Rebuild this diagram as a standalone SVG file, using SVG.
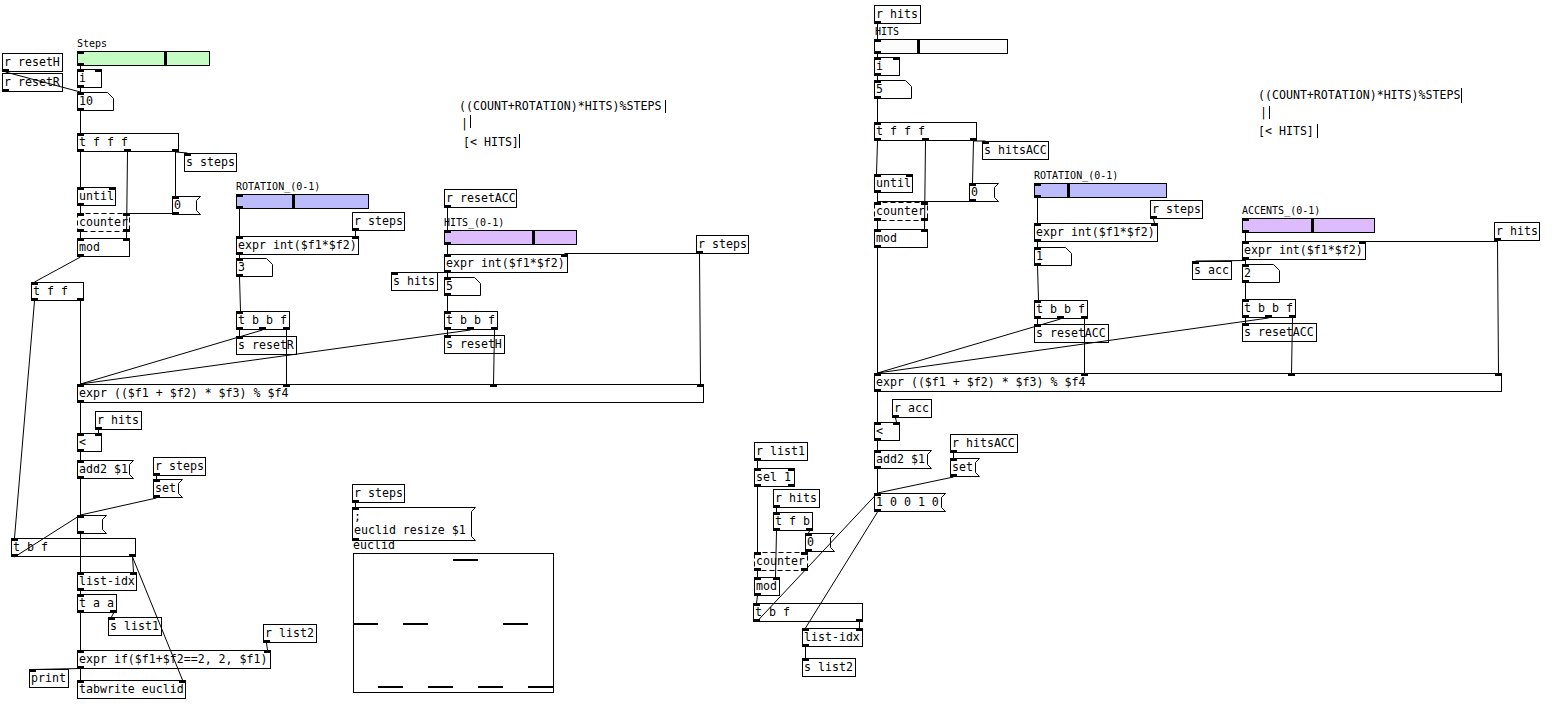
<svg xmlns="http://www.w3.org/2000/svg" width="1567" height="717" viewBox="0 0 1567 717">
<style>
.b{fill:#fff;stroke:#000;stroke-width:1}
.d{fill:#fff;stroke:#000;stroke-width:1;stroke-dasharray:5,3}
.t{font-family:"DejaVu Sans Mono",monospace;font-size:11.6px;fill:#000}
.l{font-family:"DejaVu Sans Mono",monospace;font-size:10px;fill:#000}
.io{fill:#000}
.c line{stroke:#000;stroke-width:1}
.cb{stroke:#000;stroke-width:1}
.sg{fill:#c4fcc4;stroke:#000}
.sb{fill:#bcbcfc;stroke:#000}
.sp{fill:#dcbcfc;stroke:#000}
.sw{fill:#fcfcfc;stroke:#000}
</style>
<rect width="1567" height="717" fill="#fff"/>

<g id="n_stepsslider"><text class="l" x="77" y="47">Steps</text><rect class="sg" x="77.5" y="51.5" width="132" height="14"/><rect class="io" x="164" y="51" width="3" height="15"/><rect class="io" x="77" y="51" width="7" height="3"/><rect class="io" x="77" y="63" width="7" height="3"/></g>
<g id="n_rresetH"><rect class="b" x="2.5" y="53.5" width="60" height="18"/><text class="t" x="4" y="66">r resetH</text><rect class="io" x="2" y="69" width="7" height="3"/></g>
<g id="n_rresetR"><rect class="b" x="2.5" y="73.5" width="60" height="18"/><text class="t" x="4" y="86">r resetR</text><rect class="io" x="2" y="89" width="7" height="3"/></g>
<g id="n_i"><rect class="b" x="77.5" y="69.5" width="24" height="18"/><text class="t" x="79" y="82">i</text><rect class="io" x="77" y="69" width="7" height="3"/><rect class="io" x="95" y="69" width="7" height="3"/><rect class="io" x="77" y="85" width="7" height="3"/></g>
<g id="n_10"><path class="b" d="M77.5,92.5H107.5L113.5,98.5V110.5H77.5Z"/><text class="t" x="79" y="105">10</text><rect class="io" x="77" y="92" width="7" height="3"/><rect class="io" x="77" y="108" width="7" height="3"/></g>
<g id="n_tfff"><rect class="b" x="77.5" y="133.5" width="101" height="18"/><text class="t" x="79" y="146">t f f f</text><rect class="io" x="77" y="133" width="7" height="3"/><rect class="io" x="77" y="149" width="7" height="3"/><rect class="io" x="124" y="149" width="7" height="3"/><rect class="io" x="172" y="149" width="7" height="3"/></g>
<g id="n_ssteps"><rect class="b" x="184.5" y="153.5" width="52" height="18"/><text class="t" x="186" y="166">s steps</text><rect class="io" x="184" y="153" width="7" height="3"/></g>
<g id="n_until"><rect class="b" x="77.5" y="187.5" width="38" height="18"/><text class="t" x="79" y="200">until</text><rect class="io" x="77" y="187" width="7" height="3"/><rect class="io" x="109" y="187" width="7" height="3"/><rect class="io" x="77" y="203" width="7" height="3"/></g>
<g id="n_zero1"><polygon class="b" points="172.5,196.5 200.5,196.5 196.5,200.5 196.5,210.5 200.5,214.5 172.5,214.5"/><text class="t" x="174" y="209">0</text><rect class="io" x="172" y="196" width="7" height="3"/><rect class="io" x="172" y="212" width="7" height="3"/></g>
<g id="n_counter"><rect class="d" x="77.5" y="213.5" width="52" height="18"/><text class="t" x="79" y="226">counter</text><rect class="io" x="77" y="213" width="7" height="3"/><rect class="io" x="123" y="213" width="7" height="3"/><rect class="io" x="77" y="229" width="7" height="3"/><rect class="io" x="123" y="229" width="7" height="3"/></g>
<g id="n_mod"><rect class="b" x="77.5" y="238.5" width="52" height="18"/><text class="t" x="79" y="251">mod</text><rect class="io" x="77" y="238" width="7" height="3"/><rect class="io" x="123" y="238" width="7" height="3"/><rect class="io" x="77" y="254" width="7" height="3"/></g>
<g id="n_tff"><rect class="b" x="31.5" y="282.5" width="52" height="18"/><text class="t" x="33" y="295">t f f</text><rect class="io" x="31" y="282" width="7" height="3"/><rect class="io" x="31" y="298" width="7" height="3"/><rect class="io" x="77" y="298" width="7" height="3"/></g>

<g id="n_rotslider1"><text class="l" x="236" y="190">ROTATION_(0-1)</text><rect class="sb" x="236.5" y="194.5" width="132" height="14"/><rect class="io" x="292" y="194" width="3" height="15"/><rect class="io" x="236" y="194" width="7" height="3"/><rect class="io" x="236" y="206" width="7" height="3"/></g>
<g id="n_rsteps1"><rect class="b" x="352.5" y="212.5" width="52" height="18"/><text class="t" x="354" y="225">r steps</text><rect class="io" x="352" y="228" width="7" height="3"/></g>
<g id="n_exprint1"><rect class="b" x="236.5" y="236.5" width="122" height="18"/><text class="t" x="238" y="249">expr int($f1*$f2)</text><rect class="io" x="236" y="236" width="7" height="3"/><rect class="io" x="352" y="236" width="7" height="3"/><rect class="io" x="236" y="252" width="7" height="3"/></g>
<g id="n_3"><path class="b" d="M236.5,258.5H266.5L272.5,264.5V276.5H236.5Z"/><text class="t" x="238" y="271">3</text><rect class="io" x="236" y="258" width="7" height="3"/><rect class="io" x="236" y="274" width="7" height="3"/></g>
<g id="n_tbbf1"><rect class="b" x="236.5" y="311.5" width="53" height="18"/><text class="t" x="238" y="324">t b b f</text><rect class="io" x="236" y="311" width="7" height="3"/><rect class="io" x="236" y="327" width="7" height="3"/><rect class="io" x="259" y="327" width="7" height="3"/><rect class="io" x="283" y="327" width="7" height="3"/></g>
<g id="n_sresetR"><rect class="b" x="236.5" y="336.5" width="60" height="18"/><text class="t" x="238" y="349">s resetR</text><rect class="io" x="236" y="336" width="7" height="3"/></g>
<g id="n_shits"><rect class="b" x="391.5" y="272.5" width="46" height="18"/><text class="t" x="393" y="285">s hits</text><rect class="io" x="391" y="272" width="7" height="3"/></g>
<g id="n_rresetACC1"><rect class="b" x="444.5" y="189.5" width="72" height="18"/><text class="t" x="446" y="202">r resetACC</text><rect class="io" x="444" y="205" width="7" height="3"/></g>
<g id="n_hitsslider1"><text class="l" x="444" y="226">HITS_(0-1)</text><rect class="sp" x="444.5" y="230.5" width="132" height="14"/><rect class="io" x="532" y="230" width="3" height="15"/><rect class="io" x="444" y="230" width="7" height="3"/><rect class="io" x="444" y="242" width="7" height="3"/></g>
<g id="n_rsteps2"><rect class="b" x="696.5" y="235.5" width="52" height="18"/><text class="t" x="698" y="248">r steps</text><rect class="io" x="696" y="251" width="7" height="3"/></g>
<g id="n_exprint2"><rect class="b" x="444.5" y="254.5" width="123" height="18"/><text class="t" x="446" y="267">expr int($f1*$f2)</text><rect class="io" x="444" y="254" width="7" height="3"/><rect class="io" x="561" y="254" width="7" height="3"/><rect class="io" x="444" y="270" width="7" height="3"/></g>
<g id="n_5a"><path class="b" d="M444.5,277.5H474.5L480.5,283.5V295.5H444.5Z"/><text class="t" x="446" y="290">5</text><rect class="io" x="444" y="277" width="7" height="3"/><rect class="io" x="444" y="293" width="7" height="3"/></g>
<g id="n_tbbf2"><rect class="b" x="444.5" y="311.5" width="53" height="18"/><text class="t" x="446" y="324">t b b f</text><rect class="io" x="444" y="311" width="7" height="3"/><rect class="io" x="444" y="327" width="7" height="3"/><rect class="io" x="467" y="327" width="7" height="3"/><rect class="io" x="491" y="327" width="7" height="3"/></g>
<g id="n_sresetH"><rect class="b" x="444.5" y="335.5" width="60" height="18"/><text class="t" x="446" y="348">s resetH</text><rect class="io" x="444" y="335" width="7" height="3"/></g>
<g id="n_bigexpr1"><rect class="b" x="77.5" y="384.5" width="626" height="18"/><text class="t" x="79" y="397">expr (($f1 + $f2) * $f3) % $f4</text><rect class="io" x="77" y="384" width="7" height="3"/><rect class="io" x="283" y="384" width="7" height="3"/><rect class="io" x="490" y="384" width="7" height="3"/><rect class="io" x="697" y="384" width="7" height="3"/><rect class="io" x="77" y="400" width="7" height="3"/></g>
<g id="n_rhits1"><rect class="b" x="95.5" y="411.5" width="46" height="18"/><text class="t" x="97" y="424">r hits</text><rect class="io" x="95" y="427" width="7" height="3"/></g>
<g id="n_lt1"><rect class="b" x="77.5" y="433.5" width="24" height="18"/><text class="t" x="79" y="446">&lt;</text><rect class="io" x="77" y="433" width="7" height="3"/><rect class="io" x="95" y="433" width="7" height="3"/><rect class="io" x="77" y="449" width="7" height="3"/></g>
<g id="n_add2a"><polygon class="b" points="77.5,460.5 133.5,460.5 129.5,464.5 129.5,474.5 133.5,478.5 77.5,478.5"/><text class="t" x="79" y="473">add2 $1</text><rect class="io" x="77" y="460" width="7" height="3"/><rect class="io" x="77" y="476" width="7" height="3"/></g>
<g id="n_rsteps3"><rect class="b" x="153.5" y="457.5" width="52" height="18"/><text class="t" x="155" y="470">r steps</text><rect class="io" x="153" y="473" width="7" height="3"/></g>
<g id="n_set1"><polygon class="b" points="153.5,479.5 182.5,479.5 178.5,483.5 178.5,493.5 182.5,497.5 153.5,497.5"/><text class="t" x="155" y="492">set</text><rect class="io" x="153" y="479" width="7" height="3"/><rect class="io" x="153" y="495" width="7" height="3"/></g>
<g id="n_empty1"><polygon class="b" points="77.5,515.5 106.5,515.5 102.5,519.5 102.5,529.5 106.5,533.5 77.5,533.5"/><rect class="io" x="77" y="515" width="7" height="3"/><rect class="io" x="77" y="531" width="7" height="3"/></g>
<g id="n_tbf1"><rect class="b" x="11.5" y="538.5" width="124" height="18"/><text class="t" x="13" y="551">t b f</text><rect class="io" x="11" y="538" width="7" height="3"/><rect class="io" x="11" y="554" width="7" height="3"/><rect class="io" x="129" y="554" width="7" height="3"/></g>
<g id="n_listidx1"><rect class="b" x="77.5" y="572.5" width="59" height="18"/><text class="t" x="79" y="585">list-idx</text><rect class="io" x="77" y="572" width="7" height="3"/><rect class="io" x="130" y="572" width="7" height="3"/><rect class="io" x="77" y="588" width="7" height="3"/></g>
<g id="n_taa"><rect class="b" x="77.5" y="594.5" width="39" height="18"/><text class="t" x="79" y="607">t a a</text><rect class="io" x="77" y="594" width="7" height="3"/><rect class="io" x="77" y="610" width="7" height="3"/><rect class="io" x="110" y="610" width="7" height="3"/></g>
<g id="n_slist1"><rect class="b" x="108.5" y="617.5" width="53" height="18"/><text class="t" x="110" y="630">s list1</text><rect class="io" x="108" y="617" width="7" height="3"/></g>
<g id="n_rlist2"><rect class="b" x="263.5" y="624.5" width="53" height="18"/><text class="t" x="265" y="637">r list2</text><rect class="io" x="263" y="640" width="7" height="3"/></g>
<g id="n_exprif"><rect class="b" x="77.5" y="650.5" width="193" height="18"/><text class="t" x="79" y="663">expr if($f1+$f2==2, 2, $f1)</text><rect class="io" x="77" y="650" width="7" height="3"/><rect class="io" x="264" y="650" width="7" height="3"/><rect class="io" x="77" y="666" width="7" height="3"/></g>
<g id="n_print"><rect class="b" x="29.5" y="669.5" width="39" height="18"/><text class="t" x="31" y="682">print</text><rect class="io" x="29" y="669" width="7" height="3"/></g>
<g id="n_tabwrite"><rect class="b" x="77.5" y="680.5" width="108" height="18"/><text class="t" x="79" y="693">tabwrite euclid</text><rect class="io" x="77" y="680" width="7" height="3"/><rect class="io" x="179" y="680" width="7" height="3"/></g>
<g id="n_rsteps4"><rect class="b" x="352.5" y="484.5" width="52" height="18"/><text class="t" x="354" y="497">r steps</text><rect class="io" x="352" y="500" width="7" height="3"/></g>
<g id="n_resize"><polygon class="b" points="352.5,507.5 475.5,507.5 471.5,511.5 471.5,536.5 475.5,540.5 352.5,540.5"/><text class="t" x="354" y="520">;</text><text class="t" x="354" y="534">euclid resize $1</text><rect class="io" x="352" y="507" width="7" height="3"/><rect class="io" x="352" y="538" width="7" height="3"/></g>
<g id="n_euclid"><text class="t" x="353" y="549">euclid</text><rect class="b" x="353.5" y="553.5" width="200" height="139"/><rect class="io" x="453" y="559" width="25" height="2"/><rect class="io" x="353" y="623" width="25" height="2"/><rect class="io" x="403" y="623" width="25" height="2"/><rect class="io" x="503" y="623" width="25" height="2"/><rect class="io" x="378" y="686" width="25" height="2"/><rect class="io" x="428" y="686" width="25" height="2"/><rect class="io" x="478" y="686" width="25" height="2"/><rect class="io" x="528" y="686" width="25" height="2"/></g>
<g id="n_comment1"><text class="t" x="459" y="110">((COUNT+ROTATION)*HITS)%STEPS</text><line class="cb" x1="665.5" y1="100" x2="665.5" y2="113"/><text class="t" x="461" y="127">|</text><line class="cb" x1="470.5" y1="115" x2="470.5" y2="128"/><text class="t" x="463" y="146">[&lt; HITS]</text><line class="cb" x1="519.5" y1="134" x2="519.5" y2="148"/></g>

<g id="n_rhits2"><rect class="b" x="874.5" y="5.5" width="46" height="18"/><text class="t" x="876" y="18">r hits</text><rect class="io" x="874" y="21" width="7" height="3"/></g>
<g id="n_hitsslider2"><text class="l" x="875" y="35">HITS</text><rect class="sw" x="874.5" y="39.5" width="133" height="14"/><rect class="io" x="917" y="39" width="3" height="15"/><rect class="io" x="874" y="39" width="7" height="3"/><rect class="io" x="874" y="51" width="7" height="3"/></g>
<g id="n_i2"><rect class="b" x="874.5" y="57.5" width="25" height="18"/><text class="t" x="876" y="70">i</text><rect class="io" x="874" y="57" width="7" height="3"/><rect class="io" x="893" y="57" width="7" height="3"/><rect class="io" x="874" y="73" width="7" height="3"/></g>
<g id="n_5b"><path class="b" d="M874.5,80.5H905.5L911.5,86.5V98.5H874.5Z"/><text class="t" x="876" y="93">5</text><rect class="io" x="874" y="80" width="7" height="3"/><rect class="io" x="874" y="96" width="7" height="3"/></g>
<g id="n_tfff2"><rect class="b" x="874.5" y="122.5" width="102" height="18"/><text class="t" x="876" y="135">t f f f</text><rect class="io" x="874" y="122" width="7" height="3"/><rect class="io" x="874" y="138" width="7" height="3"/><rect class="io" x="922" y="138" width="7" height="3"/><rect class="io" x="970" y="138" width="7" height="3"/></g>
<g id="n_shitsACC"><rect class="b" x="982.5" y="141.5" width="66" height="18"/><text class="t" x="984" y="154">s hitsACC</text><rect class="io" x="982" y="141" width="7" height="3"/></g>
<g id="n_until2"><rect class="b" x="874.5" y="174.5" width="38" height="18"/><text class="t" x="876" y="187">until</text><rect class="io" x="874" y="174" width="7" height="3"/><rect class="io" x="906" y="174" width="7" height="3"/><rect class="io" x="874" y="190" width="7" height="3"/></g>
<g id="n_zero2"><polygon class="b" points="969.5,183.5 998.5,183.5 994.5,187.5 994.5,197.5 998.5,201.5 969.5,201.5"/><text class="t" x="971" y="196">0</text><rect class="io" x="969" y="183" width="7" height="3"/><rect class="io" x="969" y="199" width="7" height="3"/></g>
<g id="n_counter2"><rect class="d" x="874.5" y="202.5" width="53" height="18"/><text class="t" x="876" y="215">counter</text><rect class="io" x="874" y="202" width="7" height="3"/><rect class="io" x="921" y="202" width="7" height="3"/><rect class="io" x="874" y="218" width="7" height="3"/><rect class="io" x="921" y="218" width="7" height="3"/></g>
<g id="n_mod2"><rect class="b" x="874.5" y="229.5" width="53" height="18"/><text class="t" x="876" y="242">mod</text><rect class="io" x="874" y="229" width="7" height="3"/><rect class="io" x="921" y="229" width="7" height="3"/><rect class="io" x="874" y="245" width="7" height="3"/></g>
<g id="n_rotslider2"><text class="l" x="1034" y="179">ROTATION_(0-1)</text><rect class="sb" x="1034.5" y="183.5" width="132" height="14"/><rect class="io" x="1067" y="183" width="3" height="15"/><rect class="io" x="1034" y="183" width="7" height="3"/><rect class="io" x="1034" y="195" width="7" height="3"/></g>
<g id="n_rsteps5"><rect class="b" x="1150.5" y="200.5" width="52" height="18"/><text class="t" x="1152" y="213">r steps</text><rect class="io" x="1150" y="216" width="7" height="3"/></g>
<g id="n_exprint3"><rect class="b" x="1034.5" y="223.5" width="123" height="18"/><text class="t" x="1036" y="236">expr int($f1*$f2)</text><rect class="io" x="1034" y="223" width="7" height="3"/><rect class="io" x="1151" y="223" width="7" height="3"/><rect class="io" x="1034" y="239" width="7" height="3"/></g>
<g id="n_1"><path class="b" d="M1034.5,247.5H1065.5L1071.5,253.5V265.5H1034.5Z"/><text class="t" x="1036" y="260">1</text><rect class="io" x="1034" y="247" width="7" height="3"/><rect class="io" x="1034" y="263" width="7" height="3"/></g>
<g id="n_tbbf3"><rect class="b" x="1034.5" y="300.5" width="53" height="18"/><text class="t" x="1036" y="313">t b b f</text><rect class="io" x="1034" y="300" width="7" height="3"/><rect class="io" x="1034" y="316" width="7" height="3"/><rect class="io" x="1057" y="316" width="7" height="3"/><rect class="io" x="1081" y="316" width="7" height="3"/></g>
<g id="n_sresetACC1"><rect class="b" x="1034.5" y="324.5" width="74" height="18"/><text class="t" x="1036" y="337">s resetACC</text><rect class="io" x="1034" y="324" width="7" height="3"/></g>
<g id="n_accslider"><text class="l" x="1242" y="214">ACCENTS_(0-1)</text><rect class="sp" x="1242.5" y="218.5" width="132" height="14"/><rect class="io" x="1311" y="218" width="3" height="15"/><rect class="io" x="1242" y="218" width="7" height="3"/><rect class="io" x="1242" y="230" width="7" height="3"/></g>
<g id="n_rhits3"><rect class="b" x="1494.5" y="222.5" width="45" height="18"/><text class="t" x="1496" y="235">r hits</text><rect class="io" x="1494" y="238" width="7" height="3"/></g>
<g id="n_exprint4"><rect class="b" x="1242.5" y="241.5" width="123" height="18"/><text class="t" x="1244" y="254">expr int($f1*$f2)</text><rect class="io" x="1242" y="241" width="7" height="3"/><rect class="io" x="1359" y="241" width="7" height="3"/><rect class="io" x="1242" y="257" width="7" height="3"/></g>
<g id="n_sacc"><rect class="b" x="1192.5" y="261.5" width="39" height="18"/><text class="t" x="1194" y="274">s acc</text><rect class="io" x="1192" y="261" width="7" height="3"/></g>
<g id="n_2"><path class="b" d="M1242.5,264.5H1273.5L1279.5,270.5V282.5H1242.5Z"/><text class="t" x="1244" y="277">2</text><rect class="io" x="1242" y="264" width="7" height="3"/><rect class="io" x="1242" y="280" width="7" height="3"/></g>
<g id="n_tbbf4"><rect class="b" x="1242.5" y="299.5" width="53" height="18"/><text class="t" x="1244" y="312">t b b f</text><rect class="io" x="1242" y="299" width="7" height="3"/><rect class="io" x="1242" y="315" width="7" height="3"/><rect class="io" x="1265" y="315" width="7" height="3"/><rect class="io" x="1289" y="315" width="7" height="3"/></g>
<g id="n_sresetACC2"><rect class="b" x="1242.5" y="323.5" width="74" height="18"/><text class="t" x="1244" y="336">s resetACC</text><rect class="io" x="1242" y="323" width="7" height="3"/></g>
<g id="n_bigexpr2"><rect class="b" x="874.5" y="373.5" width="627" height="18"/><text class="t" x="876" y="386">expr (($f1 + $f2) * $f3) % $f4</text><rect class="io" x="874" y="373" width="7" height="3"/><rect class="io" x="1081" y="373" width="7" height="3"/><rect class="io" x="1288" y="373" width="7" height="3"/><rect class="io" x="1495" y="373" width="7" height="3"/><rect class="io" x="874" y="389" width="7" height="3"/></g>
<g id="n_racc"><rect class="b" x="892.5" y="399.5" width="39" height="18"/><text class="t" x="894" y="412">r acc</text><rect class="io" x="892" y="415" width="7" height="3"/></g>
<g id="n_lt2"><rect class="b" x="874.5" y="422.5" width="25" height="18"/><text class="t" x="876" y="435">&lt;</text><rect class="io" x="874" y="422" width="7" height="3"/><rect class="io" x="893" y="422" width="7" height="3"/><rect class="io" x="874" y="438" width="7" height="3"/></g>
<g id="n_add2b"><polygon class="b" points="874.5,450.5 931.5,450.5 927.5,454.5 927.5,464.5 931.5,468.5 874.5,468.5"/><text class="t" x="876" y="463">add2 $1</text><rect class="io" x="874" y="450" width="7" height="3"/><rect class="io" x="874" y="466" width="7" height="3"/></g>
<g id="n_rhitsACC"><rect class="b" x="950.5" y="434.5" width="67" height="18"/><text class="t" x="952" y="447">r hitsACC</text><rect class="io" x="950" y="450" width="7" height="3"/></g>
<g id="n_set2"><polygon class="b" points="950.5,458.5 979.5,458.5 975.5,462.5 975.5,472.5 979.5,476.5 950.5,476.5"/><text class="t" x="952" y="471">set</text><rect class="io" x="950" y="458" width="7" height="3"/><rect class="io" x="950" y="474" width="7" height="3"/></g>
<g id="n_10010"><polygon class="b" points="874.5,493.5 945.5,493.5 941.5,497.5 941.5,507.5 945.5,511.5 874.5,511.5"/><text class="t" x="876" y="506">1 0 0 1 0</text><rect class="io" x="874" y="493" width="7" height="3"/><rect class="io" x="874" y="509" width="7" height="3"/></g>
<g id="n_rlist1"><rect class="b" x="754.5" y="442.5" width="53" height="18"/><text class="t" x="756" y="455">r list1</text><rect class="io" x="754" y="458" width="7" height="3"/></g>
<g id="n_sel1"><rect class="b" x="754.5" y="468.5" width="40" height="18"/><text class="t" x="756" y="481">sel 1</text><rect class="io" x="754" y="468" width="7" height="3"/><rect class="io" x="788" y="468" width="7" height="3"/><rect class="io" x="754" y="484" width="7" height="3"/><rect class="io" x="788" y="484" width="7" height="3"/></g>
<g id="n_rhits4"><rect class="b" x="773.5" y="489.5" width="46" height="18"/><text class="t" x="775" y="502">r hits</text><rect class="io" x="773" y="505" width="7" height="3"/></g>
<g id="n_tfb"><rect class="b" x="773.5" y="512.5" width="39" height="18"/><text class="t" x="775" y="525">t f b</text><rect class="io" x="773" y="512" width="7" height="3"/><rect class="io" x="773" y="528" width="7" height="3"/><rect class="io" x="806" y="528" width="7" height="3"/></g>
<g id="n_zero3"><polygon class="b" points="805.5,533.5 834.5,533.5 830.5,537.5 830.5,547.5 834.5,551.5 805.5,551.5"/><text class="t" x="807" y="546">0</text><rect class="io" x="805" y="533" width="7" height="3"/><rect class="io" x="805" y="549" width="7" height="3"/></g>
<g id="n_counter3"><rect class="d" x="754.5" y="552.5" width="53" height="18"/><text class="t" x="756" y="565">counter</text><rect class="io" x="754" y="552" width="7" height="3"/><rect class="io" x="801" y="552" width="7" height="3"/><rect class="io" x="754" y="568" width="7" height="3"/><rect class="io" x="801" y="568" width="7" height="3"/></g>
<g id="n_mod3"><rect class="b" x="754.5" y="577.5" width="25" height="18"/><text class="t" x="756" y="590">mod</text><rect class="io" x="754" y="577" width="7" height="3"/><rect class="io" x="773" y="577" width="7" height="3"/><rect class="io" x="754" y="593" width="7" height="3"/></g>
<g id="n_tbf2"><rect class="b" x="753.5" y="603.5" width="109" height="18"/><text class="t" x="755" y="616">t b f</text><rect class="io" x="753" y="603" width="7" height="3"/><rect class="io" x="753" y="619" width="7" height="3"/><rect class="io" x="856" y="619" width="7" height="3"/></g>
<g id="n_listidx2"><rect class="b" x="802.5" y="628.5" width="60" height="18"/><text class="t" x="804" y="641">list-idx</text><rect class="io" x="802" y="628" width="7" height="3"/><rect class="io" x="856" y="628" width="7" height="3"/><rect class="io" x="802" y="644" width="7" height="3"/></g>
<g id="n_slist2"><rect class="b" x="802.5" y="658.5" width="53" height="18"/><text class="t" x="804" y="671">s list2</text><rect class="io" x="802" y="658" width="7" height="3"/></g>
<g id="n_comment2"><text class="t" x="1258" y="99">((COUNT+ROTATION)*HITS)%STEPS</text><line class="cb" x1="1461.5" y1="88" x2="1461.5" y2="103"/><text class="t" x="1260" y="116">|</text><line class="cb" x1="1269.5" y1="106" x2="1269.5" y2="119"/><text class="t" x="1258" y="135">[&lt; HITS]</text><line class="cb" x1="1317.5" y1="124" x2="1317.5" y2="138"/></g>

<g class="c" id="connectors">
<line x1="80.5" y1="66" x2="80.5" y2="69"/>
<line x1="5.5" y1="72" x2="80.5" y2="92"/>
<line x1="80.5" y1="88" x2="80.5" y2="92"/>
<line x1="80.5" y1="111" x2="80.5" y2="133"/>
<line x1="80.5" y1="152" x2="80.5" y2="187"/>
<line x1="127.5" y1="152" x2="126.5" y2="238"/>
<line x1="175.5" y1="152" x2="175.5" y2="196"/>
<line x1="175.5" y1="152" x2="187.5" y2="153"/>
<line x1="175.5" y1="213.5" x2="126.5" y2="213.5"/>
<line x1="80.5" y1="206" x2="80.5" y2="213"/>
<line x1="80.5" y1="232" x2="80.5" y2="238"/>
<line x1="80.5" y1="257" x2="34.5" y2="282"/>
<line x1="34.5" y1="301" x2="14.5" y2="538"/>
<line x1="80.5" y1="301" x2="80.5" y2="384"/>
<line x1="239.5" y1="209" x2="239.5" y2="236"/>
<line x1="355.5" y1="231" x2="355.5" y2="236"/>
<line x1="239.5" y1="255" x2="239.5" y2="258"/>
<line x1="239.5" y1="277" x2="240.5" y2="311"/>
<line x1="239.5" y1="330" x2="239.5" y2="336"/>
<line x1="262.5" y1="330" x2="80.5" y2="384"/>
<line x1="286.5" y1="330" x2="286.5" y2="384"/>
<line x1="447.5" y1="208" x2="447.5" y2="230"/>
<line x1="447.5" y1="245" x2="447.5" y2="254"/>
<line x1="699.5" y1="253.5" x2="564.5" y2="253.5"/>
<line x1="699.5" y1="254" x2="700.5" y2="384"/>
<line x1="447.5" y1="272.5" x2="394.5" y2="272.5"/>
<line x1="447.5" y1="273" x2="447.5" y2="277"/>
<line x1="447.5" y1="296" x2="447.5" y2="311"/>
<line x1="447.5" y1="330" x2="447.5" y2="335"/>
<line x1="470.5" y1="330" x2="80.5" y2="384"/>
<line x1="494.5" y1="330" x2="493.5" y2="384"/>
<line x1="80.5" y1="403" x2="80.5" y2="433"/>
<line x1="98.5" y1="430" x2="98.5" y2="433"/>
<line x1="80.5" y1="452" x2="80.5" y2="460"/>
<line x1="80.5" y1="479" x2="80.5" y2="515"/>
<line x1="156.5" y1="476" x2="156.5" y2="479"/>
<line x1="156.5" y1="498" x2="80.5" y2="515"/>
<line x1="14.5" y1="557" x2="80.5" y2="515"/>
<line x1="80.5" y1="534" x2="80.5" y2="572"/>
<line x1="132.5" y1="557" x2="133.5" y2="572"/>
<line x1="132.5" y1="557" x2="182.5" y2="680"/>
<line x1="80.5" y1="591" x2="80.5" y2="594"/>
<line x1="80.5" y1="613" x2="80.5" y2="650"/>
<line x1="113.5" y1="613" x2="111.5" y2="617"/>
<line x1="266.5" y1="643" x2="267.5" y2="650"/>
<line x1="80.5" y1="669" x2="80.5" y2="680"/>
<line x1="80.5" y1="668.5" x2="32.5" y2="669.5"/>
<line x1="355.5" y1="503" x2="355.5" y2="507"/>
<line x1="877.5" y1="24" x2="877.5" y2="39"/>
<line x1="877.5" y1="54" x2="877.5" y2="57"/>
<line x1="877.5" y1="76" x2="877.5" y2="80"/>
<line x1="877.5" y1="99" x2="877.5" y2="122"/>
<line x1="877.5" y1="141" x2="876.5" y2="174"/>
<line x1="925.5" y1="141" x2="924.5" y2="229"/>
<line x1="973.5" y1="141" x2="972.5" y2="183"/>
<line x1="973.5" y1="141" x2="985.5" y2="141"/>
<line x1="972.5" y1="201.5" x2="877.5" y2="201.5"/>
<line x1="877.5" y1="193" x2="877.5" y2="202"/>
<line x1="877.5" y1="221" x2="877.5" y2="229"/>
<line x1="877.5" y1="248" x2="877.5" y2="373"/>
<line x1="1037.5" y1="198" x2="1037.5" y2="223"/>
<line x1="1153.5" y1="219" x2="1154.5" y2="223"/>
<line x1="1037.5" y1="242" x2="1037.5" y2="247"/>
<line x1="1037.5" y1="266" x2="1038.5" y2="300"/>
<line x1="1037.5" y1="319" x2="1037.5" y2="324"/>
<line x1="1060.5" y1="319" x2="877.5" y2="373"/>
<line x1="1084.5" y1="319" x2="1084.5" y2="373"/>
<line x1="1245.5" y1="233" x2="1245.5" y2="241"/>
<line x1="1497.5" y1="241.5" x2="1362.5" y2="241.5"/>
<line x1="1497.5" y1="241" x2="1498.5" y2="373"/>
<line x1="1245.5" y1="260.5" x2="1195.5" y2="261"/>
<line x1="1245.5" y1="260" x2="1245.5" y2="264"/>
<line x1="1245.5" y1="283" x2="1245.5" y2="299"/>
<line x1="1245.5" y1="318" x2="1245.5" y2="323"/>
<line x1="1268.5" y1="318" x2="877.5" y2="373"/>
<line x1="1292.5" y1="318" x2="1291.5" y2="373"/>
<line x1="877.5" y1="392" x2="877.5" y2="422"/>
<line x1="895.5" y1="418" x2="896.5" y2="422"/>
<line x1="877.5" y1="441" x2="877.5" y2="450"/>
<line x1="877.5" y1="469" x2="877.5" y2="493"/>
<line x1="953.5" y1="453" x2="953.5" y2="458"/>
<line x1="953.5" y1="477" x2="877.5" y2="493"/>
<line x1="756.5" y1="622" x2="877.5" y2="493"/>
<line x1="877.5" y1="512" x2="805.5" y2="628"/>
<line x1="859.5" y1="622" x2="859.5" y2="628"/>
<line x1="805.5" y1="647" x2="805.5" y2="658"/>
<line x1="757.5" y1="461" x2="757.5" y2="468"/>
<line x1="757.5" y1="487" x2="757.5" y2="552"/>
<line x1="776.5" y1="508" x2="776.5" y2="512"/>
<line x1="776.5" y1="531" x2="775.5" y2="577"/>
<line x1="809.5" y1="531" x2="808.5" y2="533"/>
<line x1="757.5" y1="571" x2="757.5" y2="577"/>
<line x1="757.5" y1="596" x2="756.5" y2="603"/>
</g>
</svg>
